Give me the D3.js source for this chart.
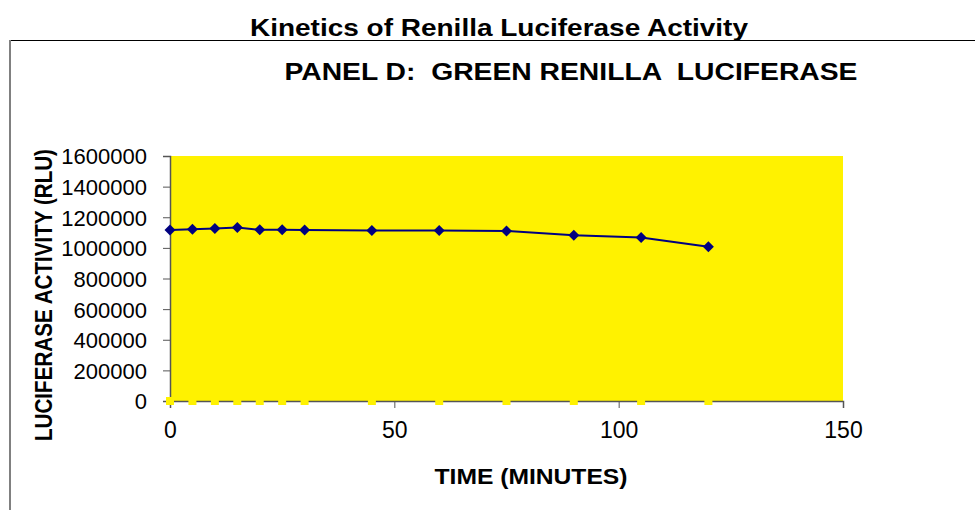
<!DOCTYPE html>
<html>
<head>
<meta charset="utf-8">
<script src="https://cdn.jsdelivr.net/npm/d3@7"></script>
<style>
  body { margin: 0; background: #fff; }
  text { font-family: "Liberation Sans", Arial, sans-serif; }
</style>
</head>
<body>
<script>
// data
var times = [0, 5, 10, 15, 20, 25, 30, 45, 60, 75, 90, 105, 120];
var rlu = [1116000, 1122000, 1127000, 1133000, 1118000, 1118000, 1117000, 1114000, 1113000, 1111000, 1083000, 1068000, 1007000];
var baseline = [0, 0, 0, 0, 0, 0, 0, 0, 0, 0, 0, 0, 0];
var xTicks = [0, 50, 100, 150];
var yTicks = [0, 200000, 400000, 600000, 800000, 1000000, 1200000, 1400000, 1600000];

var width = 975, height = 510;
var margin = {left: 170, right: 132, top: 156, bottom: 109};

var points = times.map(function(t, i) { return {t: t, v: rlu[i]}; });
var zeros = times.map(function(t, i) { return {t: t, v: baseline[i]}; });

//SCALES
var xScale = d3.scaleLinear().domain([0, 150]).range([margin.left, width - margin.right]);
var yScale = d3.scaleLinear().domain([0, 1600000]).range([height - margin.bottom, margin.top]);

var svg = d3.select("body").append("svg")
    .attr("width", width)
    .attr("height", height);

// outer chart frame
svg.append("line").attr("x1", 9).attr("x2", width).attr("y1", 40.5).attr("y2", 40.5)
    .attr("stroke", "#000").attr("stroke-width", 1);
svg.append("line").attr("x1", 10).attr("x2", 10).attr("y1", 40).attr("y2", height)
    .attr("stroke", "#808080").attr("stroke-width", 2);

// titles
svg.append("text")
    .attr("x", 499).attr("y", 36)
    .attr("text-anchor", "middle")
    .attr("font-size", 24).attr("font-weight", "bold")
    .attr("textLength", 498).attr("lengthAdjust", "spacingAndGlyphs")
    .text("Kinetics of Renilla Luciferase Activity");

svg.append("text")
    .attr("x", 571).attr("y", 80)
    .attr("text-anchor", "middle")
    .attr("font-size", 23).attr("font-weight", "bold")
    .attr("textLength", 573).attr("lengthAdjust", "spacingAndGlyphs")
    .style("white-space", "pre")
    .text("PANEL D:  GREEN RENILLA  LUCIFERASE");

// plot area
svg.append("rect")
    .attr("x", xScale(0)).attr("y", yScale(1600000))
    .attr("width", xScale(150) - xScale(0))
    .attr("height", yScale(0) - yScale(1600000))
    .attr("fill", "#FFF200");

// axes
var yAxis = svg.append("g")
    .attr("transform", "translate(" + margin.left + ",0)")
    .call(d3.axisLeft(yScale).tickValues(yTicks).tickSize(7).tickPadding(16).tickFormat(d3.format("d")));

var xAxis = svg.append("g")
    .attr("transform", "translate(0," + yScale(0) + ")")
    .call(d3.axisBottom(xScale).tickValues(xTicks).tickSize(7).tickPadding(14).tickFormat(d3.format("d")));

[yAxis, xAxis].forEach(function(g) {
    g.select(".domain").attr("stroke", "#555").attr("stroke-width", 1.5);
    g.selectAll(".tick line").attr("stroke", "#555");
    g.selectAll(".tick text")
        .attr("fill", "#000")
        .attr("font-family", "'Liberation Sans', Arial, sans-serif");
});
yAxis.selectAll(".tick text").attr("font-size", 22).attr("dy", "0.36em");
xAxis.selectAll(".tick text").attr("font-size", 23);

// axis titles
svg.append("text")
    .attr("transform", "translate(52,295) rotate(-90)")
    .attr("text-anchor", "middle")
    .attr("font-size", 23).attr("font-weight", "bold")
    .attr("textLength", 292).attr("lengthAdjust", "spacingAndGlyphs")
    .text("LUCIFERASE ACTIVITY (RLU)");

svg.append("text")
    .attr("x", 531).attr("y", 484)
    .attr("text-anchor", "middle")
    .attr("font-size", 22).attr("font-weight", "bold")
    .attr("textLength", 193).attr("lengthAdjust", "spacingAndGlyphs")
    .text("TIME (MINUTES)");

// hidden baseline series: yellow squares
svg.selectAll("rect.zero")
    .data(zeros)
    .enter().append("rect")
        .attr("class", "zero")
        .attr("x", function(d) { return xScale(d.t) - 4; })
        .attr("y", function(d) { return yScale(d.v) - 4; })
        .attr("width", 8).attr("height", 8)
        .attr("fill", "#FFF200");

// main series
var line = d3.line()
    .x(function(d) { return xScale(d.t); })
    .y(function(d) { return yScale(d.v); });

svg.append("path")
    .datum(points)
    .attr("d", line)
    .attr("fill", "none")
    .attr("stroke", "#000080")
    .attr("stroke-width", 2);

svg.selectAll("path.pt")
    .data(points)
    .enter().append("path")
        .attr("class", "pt")
        .attr("transform", function(d) { return "translate(" + xScale(d.t) + "," + yScale(d.v) + ")"; })
        .attr("d", "M0,-5.5L5.5,0L0,5.5L-5.5,0Z")
        .attr("fill", "#000080");
</script>
</body>
</html>
